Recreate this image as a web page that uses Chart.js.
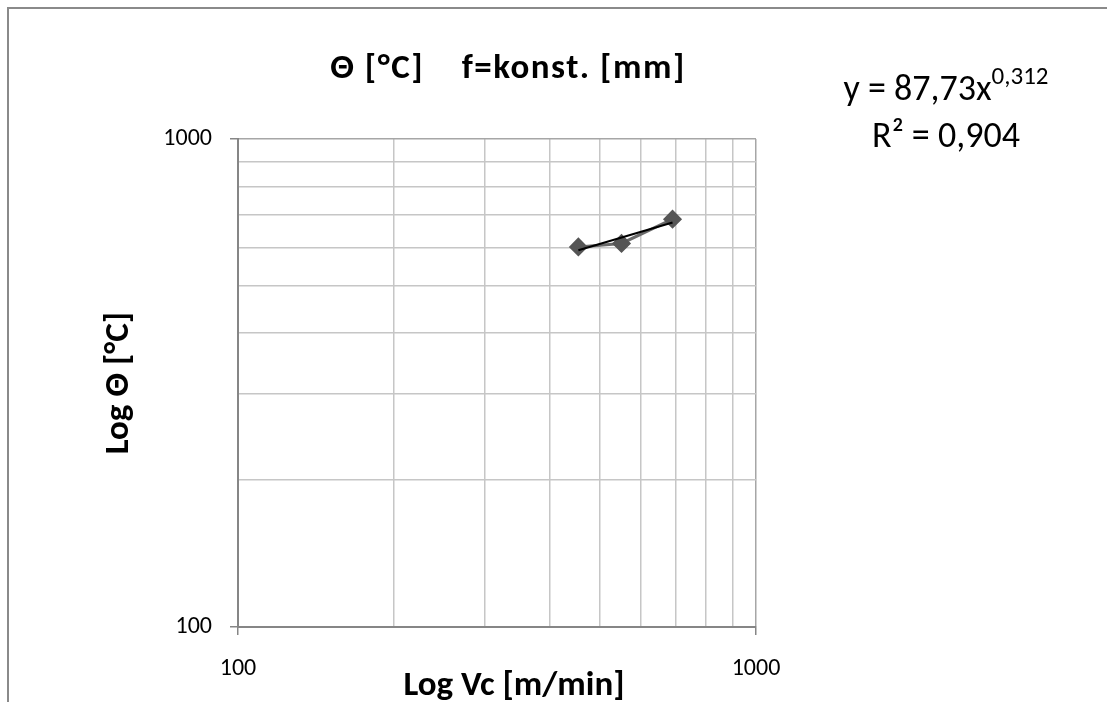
<!DOCTYPE html>
<html>
<head>
<meta charset="utf-8">
<script src="https://cdn.jsdelivr.net/npm/chart.js@4"></script>
<style>
  html, body { margin: 0; padding: 0; background: #fff; overflow: hidden; }
  canvas { display: block; }
</style>
</head>
<body>
<canvas id="grafico" width="1107" height="702"></canvas>
<script>
// Messwerte: Schnittgeschwindigkeit Vc [m/min] und Temperatur Θ [°C]
const vc = [454, 550, 690];
const theta = [601, 611, 685];

// Potenz-Trendlinie y = a * x^b
const trendA = 87.73;
const trendB = 0.312;
const r2 = "0,904";

// Gitterlinien (log) und beschriftete Werte
const gitter = [100, 200, 300, 400, 500, 600, 700, 800, 900, 1000];
const xTicks = [100, 1000];
const yTicks = [100, 1000];

const FONT = "Carlito, Calibri, Lato, 'Open Sans', sans-serif";

const messPunkte = vc.map((x, i) => ({ x: x, y: theta[i] }));
const xStart = vc[0], xEnde = vc[vc.length - 1];
const trendPunkte = [xStart, xEnde].map((x) => ({ x: x, y: trendA * Math.pow(x, trendB) }));

const istHaupt = (v) => v === 100 || v === 1000;

// Rahmen, Titel, x-Achsentitel und Gleichung der Trendlinie
const beschriftung = {
    id: "beschriftung",
    beforeDraw(chart) {
        const c = chart.ctx;
        c.save();
        c.fillStyle = "#fff";
        c.fillRect(0, 0, chart.width, chart.height);
        c.strokeStyle = "#8a8a8a";
        c.lineWidth = 2;
        c.beginPath();
        c.moveTo(8, chart.height);
        c.lineTo(8, 8);
        c.lineTo(chart.width, 8);
        c.stroke();
        c.restore();
    },
    afterDraw(chart) {
        const c = chart.ctx;
        c.save();
        c.fillStyle = "#000";
        c.textBaseline = "alphabetic";
        c.textAlign = "center";
        c.font = "bold 35px " + FONT;
        c.letterSpacing = "1.5px";
        c.fillText("Θ [°C]    f=konst. [mm]", 508, 78);
        c.letterSpacing = "0px";
        c.font = "bold 35px " + FONT;
        c.fillText("Log Vc [m/min]", 514, 695);

        // Gleichung mit hochgestelltem Exponenten
        c.textAlign = "left";
        const basis = "y = " + trendA.toFixed(2).replace(".", ",") + "x";
        const expo = trendB.toFixed(3).replace(".", ",");
        c.font = "36px " + FONT;
        const wB = c.measureText(basis).width;
        c.font = "25px " + FONT;
        const wE = c.measureText(expo).width;
        const x0 = 946 - (wB + wE) / 2;
        c.font = "36px " + FONT;
        c.fillText(basis, x0, 100);
        c.font = "25px " + FONT;
        c.fillText(expo, x0 + wB, 84);
        c.font = "36px " + FONT;
        c.textAlign = "center";
        c.fillText("R² = " + r2, 946, 147);
        c.restore();
    },
};

const gitterSetzen = (s) => { s.ticks = gitter.map((v) => ({ value: v })); };

new Chart(document.getElementById("grafico"), {
    type: "scatter",
    data: {
        datasets: [
            {
                label: "Θ",
                data: messPunkte,
                showLine: true,
                borderColor: "#6a6a6a",
                borderWidth: 3,
                pointStyle: "rectRot",
                pointRadius: 8.5,
                pointBackgroundColor: "#555555",
                pointBorderColor: "#555555",
                pointBorderWidth: 1.5,
                order: 2,
            },
            {
                label: "Trend",
                data: trendPunkte,
                showLine: true,
                borderColor: "#000",
                borderWidth: 2,
                pointRadius: 0,
                order: 1,
            },
        ],
    },
    plugins: [beschriftung],
    options: {
        responsive: false,
        animation: false,
        layout: { padding: { left: 0, top: 139, right: 351, bottom: 0 } },
        plugins: {
            legend: { display: false },
            tooltip: { enabled: false },
            title: { display: false },
        },
        scales: {
            x: {
                type: "logarithmic",
                min: xTicks[0],
                max: xTicks[1],
                afterBuildTicks: gitterSetzen,
                afterFit: (s) => { s.height = 75; },
                border: { color: "#868686", width: 2 },
                grid: {
                    color: (ctx) => (ctx.tick && istHaupt(ctx.tick.value) ? "#a6a6a6" : "#c6c6c6"),
                    tickColor: (ctx) => (ctx.tick && istHaupt(ctx.tick.value) ? "#868686" : "rgba(0,0,0,0)"),
                    tickLength: 8,
                    lineWidth: 1.5,
                },
                ticks: {
                    autoSkip: false,
                    maxRotation: 0,
                    padding: 20,
                    color: "#000",
                    font: { family: FONT, size: 24 },
                    callback: (v) => (xTicks.includes(v) ? String(v) : ""),
                },
            },
            y: {
                type: "logarithmic",
                min: yTicks[0],
                max: yTicks[1],
                afterBuildTicks: gitterSetzen,
                afterFit: (s) => { s.width = 238; },
                border: { color: "#868686", width: 2 },
                grid: {
                    color: (ctx) => (ctx.tick && istHaupt(ctx.tick.value) ? "#a6a6a6" : "#c6c6c6"),
                    tickColor: (ctx) => (ctx.tick && istHaupt(ctx.tick.value) ? "#868686" : "rgba(0,0,0,0)"),
                    tickLength: 8,
                    lineWidth: 1.5,
                },
                title: {
                    display: true,
                    text: "Log Θ [°C]",
                    color: "#000",
                    font: { family: FONT, size: 35, weight: "bold" },
                    padding: { top: 98, bottom: 0 },
                },
                ticks: {
                    autoSkip: false,
                    padding: 18,
                    color: "#000",
                    font: { family: FONT, size: 24 },
                    callback: (v) => (yTicks.includes(v) ? String(v) : ""),
                },
            },
        },
    },
});
</script>
</body>
</html>
